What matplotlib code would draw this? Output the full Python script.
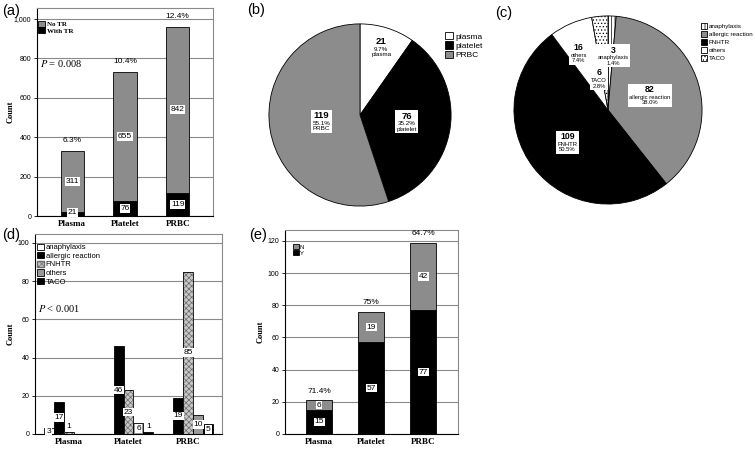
import matplotlib
matplotlib.use("Agg")
import matplotlib.pyplot as plt
import numpy as np
from matplotlib.patches import Patch
from matplotlib.offsetbox import TextArea, VPacker, AnnotationBbox

plt.rcParams['mathtext.fontset'] = 'stix'
plt.rcParams['hatch.linewidth'] = 0.5

SANS = ['Liberation Sans', 'DejaVu Sans']
SERIF = ['Liberation Serif', 'DejaVu Serif']
GRAY = '#8c8c8c'

# ---------------- data ----------------
categories = ["Plasma", "Platelet", "PRBC"]

# (a)
with_tr = [21, 76, 119]
no_tr = [311, 655, 842]
pct_a = ["6.3%", "10.4%", "12.4%"]
a_ticks = [0, 200, 400, 600, 800, 1000]
a_ticklabels = ["0", "200", "400", "600", "800", "1,000"]

# (b)
pie_b_names = ["plasma", "platelet", "PRBC"]
pie_b_counts = [21, 76, 119]
pie_b_pcts = ["9.7%", "35.2%", "55.1%"]

# (c)
reaction_types = ["anaphylaxis", "allergic reaction", "FNHTR", "others", "TACO"]
pie_c_counts = [3, 82, 109, 16, 6]
pie_c_pcts = ["1.4%", "38.0%", "50.5%", "7.4%", "2.8%"]

# (d) counts per reaction type for Plasma, Platelet, PRBC
d_anaphylaxis = [3, 0, 0]
d_allergic = [17, 46, 19]
d_fnhtr = [1, 23, 85]
d_others = [0, 6, 10]
d_taco = [0, 1, 5]
d_ticks = [0, 20, 40, 60, 80, 100]

# (e)
e_y = [15, 57, 77]
e_n = [6, 19, 42]
pct_e = ["71.4%", "75%", "64.7%"]
e_ticks = [0, 20, 40, 60, 80, 100, 120]

# ---------------- figure ----------------
W, H = 755, 451
fig = plt.figure(figsize=(W / 100, H / 100), dpi=100)


def px_axes(x0, y0, x1, y1):
    return fig.add_axes([x0 / W, 1 - y1 / H, (x1 - x0) / W, (y1 - y0) / H])


LBOX = dict(boxstyle='square,pad=0.1', fc='white', ec='none')
VALSIZE = 6


def style_bar_ax(ax, xlim, ylim, ticks, ticklabels, ylabel_x):
    ax.set_xlim(*xlim)
    ax.set_ylim(*ylim)
    ax.set_yticks(ticks)
    ax.set_yticklabels(ticklabels, fontsize=5, family=SANS)
    ax.set_xticks(range(len(categories)))
    ax.set_xticklabels(categories, fontsize=6.5, family=SERIF, fontweight='bold')
    ax.tick_params(axis='x', length=0, pad=3)
    ax.tick_params(axis='y', length=2, width=0.6, pad=2)
    for s in ['top', 'right']:
        ax.spines[s].set_color('#8a8a8a')
        ax.spines[s].set_linewidth(0.8)
    for s in ['left', 'bottom']:
        ax.spines[s].set_color('black')
        ax.spines[s].set_linewidth(0.8)
    ax.set_ylabel('Count', fontsize=6, family=SERIF, fontweight='bold')
    ax.yaxis.set_label_coords(ylabel_x, 0.5)
    ax.set_axisbelow(True)
    ax.grid(True, axis='y', color='#8a8a8a', linewidth=0.8)


x = np.arange(len(categories))

# ---------------- (a) ----------------
axA = px_axes(37, 8, 213, 216)
bw = 0.44
axA.bar(x, with_tr, bw, color='black', edgecolor='black', lw=0.6, label='With TR')
axA.bar(x, no_tr, bw, bottom=with_tr, color=GRAY, edgecolor='black', lw=0.6, label='No TR')
style_bar_ax(axA, (-0.67, 2.67), (0, 1056), a_ticks, a_ticklabels, -0.125)
for i in range(3):
    axA.text(x[i], max(with_tr[i] / 2, 18), str(with_tr[i]), ha='center', va='center',
             fontsize=VALSIZE, family=SANS, bbox=LBOX)
    axA.text(x[i], with_tr[i] + no_tr[i] / 2, str(no_tr[i]), ha='center', va='center',
             fontsize=VALSIZE, family=SANS, bbox=LBOX)
    axA.annotate(pct_a[i], (x[i], with_tr[i] + no_tr[i]), xytext=(0, 5),
                 textcoords='offset points', ha='center', va='bottom', fontsize=6, family=SANS)
h, l = axA.get_legend_handles_labels()
axA.legend(h[::-1], l[::-1], loc='upper left', bbox_to_anchor=(0.0, 0.945), frameon=False,
           prop=dict(family=SERIF, weight='bold', size=5), handlelength=1.0, handleheight=0.9,
           handletextpad=0.2, labelspacing=0.05, borderaxespad=0.1, borderpad=0.1)
axA.text(0.017, 0.735, r"$P$ = 0.008", transform=axA.transAxes, fontsize=7.5, family=SERIF,
         va='center')

# ---------------- (d) ----------------
axD = px_axes(35, 234, 222, 434)
w = 1 / 6
d_series = [d_anaphylaxis, d_allergic, d_fnhtr, d_others, d_taco]
d_face = ['white', 'black', '#c8c8c8', '#999999', 'black']
d_hatch = [None, None, 'xxxxxx', None, None]
d_hcol = ['black', 'black', '#6a6a6a', 'black', 'black']
handles = []
for j, (vals, name) in enumerate(zip(d_series, reaction_types)):
    pos = x + (j - 2) * w
    vals = np.array(vals)
    m = vals > 0
    if d_hatch[j]:
        axD.bar(pos[m], vals[m], w, color=d_face[j], hatch=d_hatch[j], edgecolor=d_hcol[j], lw=0)
        axD.bar(pos[m], vals[m], w, fill=False, edgecolor='black', lw=0.6)
        handles.append(Patch(facecolor=d_face[j], hatch=d_hatch[j], edgecolor=d_hcol[j], label=name))
    else:
        axD.bar(pos[m], vals[m], w, color=d_face[j], edgecolor='black', lw=0.6)
        handles.append(Patch(facecolor=d_face[j], edgecolor='black', lw=0.6, label=name))
    for p, v in zip(pos, vals):
        if v > 0:
            yy = v / 2 if v >= 2 else v + 3
            axD.text(p, yy, str(v), ha='center', va='center', fontsize=VALSIZE, family=SANS,
                     bbox=LBOX)
style_bar_ax(axD, (-0.56, 2.56), (0, 104.7), d_ticks, [str(t) for t in d_ticks], -0.107)
axD.legend(handles=handles, loc='upper left', bbox_to_anchor=(0.0, 0.96), frameon=False,
           prop=dict(family=SANS, size=5.5), handlelength=1.0, handleheight=0.9,
           handletextpad=0.2, labelspacing=0.1, borderaxespad=0.1, borderpad=0.1)
axD.text(0.016, 0.63, r"$P$ < 0.001", transform=axD.transAxes, fontsize=7.5, family=SERIF,
         va='center')

# ---------------- (e) ----------------
axE = px_axes(285, 230, 458, 434)
bw = 0.5
axE.bar(x, e_y, bw, color='black', edgecolor='black', lw=0.6, label='Y')
axE.bar(x, e_n, bw, bottom=e_y, color=GRAY, edgecolor='black', lw=0.6, label='N')
style_bar_ax(axE, (-0.66, 2.67), (0, 126.8), e_ticks, [str(t) for t in e_ticks], -0.116)
for i in range(3):
    axE.text(x[i], e_y[i] / 2, str(e_y[i]), ha='center', va='center', fontsize=VALSIZE,
             family=SANS, bbox=LBOX)
    axE.text(x[i], e_y[i] + e_n[i] / 2, str(e_n[i]), ha='center', va='center', fontsize=VALSIZE,
             family=SANS, bbox=LBOX)
    axE.annotate(pct_e[i], (x[i], e_y[i] + e_n[i]), xytext=(0, 4), textcoords='offset points',
                 ha='center', va='bottom', fontsize=6, family=SANS)
h, l = axE.get_legend_handles_labels()
axE.legend(h[::-1], l[::-1], loc='upper left', bbox_to_anchor=(0.04, 0.935), frameon=False,
           prop=dict(family=SANS, size=4.2), handlelength=1.0, handleheight=0.9,
           handletextpad=0.1, labelspacing=0.05, borderaxespad=0.1, borderpad=0.1)


# ---------------- pies ----------------
def pie_label(ax, ang, r, lines, sizes, weights):
    t = np.deg2rad(ang)
    px, py = r * np.cos(t), r * np.sin(t)
    areas = [TextArea(s, textprops=dict(fontsize=fs, fontweight=fw, family=SANS))
             for s, fs, fw in zip(lines, sizes, weights)]
    pack = VPacker(children=areas, align='center', pad=1.0, sep=0.5)
    ab = AnnotationBbox(pack, (px, py), xycoords='data', frameon=True, pad=0,
                        bboxprops=dict(boxstyle='square,pad=0', fc='white', ec='none'))
    ax.add_artist(ab)


def mid_angles(counts):
    tot = sum(counts)
    cum = np.cumsum([0] + list(counts[:-1]))
    return [90 - 360 * (c + v / 2) / tot for c, v in zip(cum, counts)]


# (b)
axB = px_axes(268, 23, 452, 207)
wedgesB, _ = axB.pie(pie_b_counts, colors=['white', 'black', GRAY], startangle=90,
                     counterclock=False, radius=1,
                     wedgeprops=dict(edgecolor='black', linewidth=0.6))
axB.set_xlim(-1.01, 1.01)
axB.set_ylim(-1.01, 1.01)
axB.set_aspect('equal')
rB = [0.78, 0.52, 0.43]
for ang, r, c, p, n in zip(mid_angles(pie_b_counts), rB, pie_b_counts, pie_b_pcts, pie_b_names):
    pie_label(axB, ang, r, [str(c), p, n], [6.8, 4.5, 4.5], ['bold', 'normal', 'normal'])
fig.legend(wedgesB, pie_b_names, loc='upper left', bbox_to_anchor=(445 / W, 1 - 32 / H),
           frameon=False, prop=dict(family=SANS, size=6), handlelength=1.0, handleheight=1.0,
           handletextpad=0.2, labelspacing=0.1, borderaxespad=0, borderpad=0)

# (c)
axC = px_axes(513, 15, 703, 205)
c_face = ['white', GRAY, 'black', 'white', 'white']
c_hatch = ['|||||', None, None, None, '.....']
wedgesC, _ = axC.pie(pie_c_counts, colors=c_face, startangle=90, counterclock=False, radius=1,
                     wedgeprops=dict(edgecolor='black', linewidth=0.6))
for wd, ht in zip(wedgesC, c_hatch):
    if ht:
        wd.set_hatch(ht)
axC.set_xlim(-1.01, 1.01)
axC.set_ylim(-1.01, 1.01)
axC.set_aspect('equal')
rC = [0.58, 0.47, 0.55, 0.68, 0.35]
dC = [-3, 3, 1, 4, 11]
for ang, da, r, c, p, n in zip(mid_angles(pie_c_counts), dC, rC, pie_c_counts, pie_c_pcts,
                                reaction_types):
    pie_label(axC, ang + da, r, [str(c), n, p], [6.3, 4.2, 4.2], ['bold', 'normal', 'normal'])
fig.legend(wedgesC, reaction_types, loc='upper left', bbox_to_anchor=(701 / W, 1 - 23 / H),
           frameon=False, prop=dict(family=SANS, size=4.5), handlelength=1.0, handleheight=1.1,
           handletextpad=0.25, labelspacing=0.3, borderaxespad=0, borderpad=0)

# ---------------- panel letters ----------------
for lab, px_, py_ in [("(a)", 2, 11), ("(b)", 247, 10), ("(c)", 495, 13),
                      ("(d)", 2, 235), ("(e)", 249, 235)]:
    fig.text(px_ / W, 1 - py_ / H, lab, fontsize=10.5, family=SANS, va='center', ha='left')

fig.savefig("out.png", dpi=100)
